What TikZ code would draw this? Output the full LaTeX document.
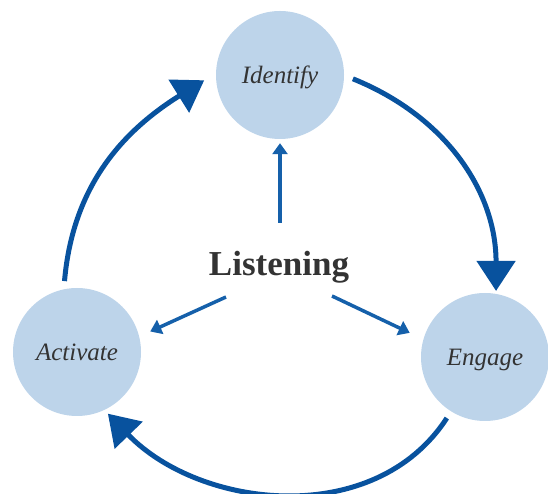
\documentclass[tikz,border=0pt]{standalone}
\usepackage{fontspec}
\setmainfont{Liberation Serif}
\usetikzlibrary{arrows.meta}
\definecolor{stage}{RGB}{189,212,234}
\definecolor{cycleblue}{RGB}{8,82,158}
\definecolor{spokeblue}{RGB}{21,96,170}
\definecolor{ink}{RGB}{51,51,51}
\begin{document}
\begin{tikzpicture}[x=1pt,y=1pt,
  stagenode/.style={circle,fill=stage,minimum size=128pt,inner sep=0pt,
    text=ink,text height=17pt,text depth=0pt,
    font=\fontsize{25}{30}\selectfont\itshape},
  cyclearrow/.style={draw=cycleblue,line width=5pt,
    -{Triangle[length=30pt,width=38pt]}},
  spokearrow/.style={draw=spokeblue,line width=3.5pt,
    -{Triangle[length=11pt,width=15pt]}}]
\useasboundingbox (0,0) rectangle (548,494);

% the three stages of the cycle
\node[stagenode] (ident)  at (280,419) {Identify};
\node[stagenode] (activ)  at (77,142)  {Activate};
\node[stagenode] (engage) at (485,137) {Engage};

% centre label
\node[anchor=base,text=ink,inner sep=0pt,
  font=\fontsize{35}{40}\selectfont\bfseries] (listen) at (279,218) {Listening};

% cycle arrows
\draw[cyclearrow] ([shift={(-3:73)}]ident.center)
  to[out=-22,in=90] ([shift={(80.5:67)}]engage.center);
\draw[cyclearrow] ([shift={(238:72)}]engage.center)
  to[out=237,in=-46] ([shift={(-63.4:69)}]activ.center);
\draw[cyclearrow] ([shift={(100:72)}]activ.center)
  to[out=85,in=212] ([shift={(184:76)}]ident.center);

% spokes from the centre label
\coordinate (sUp)    at (280,271);
\coordinate (sLeft)  at (226,197);
\coordinate (sRight) at (332,198);
\draw[spokearrow,shorten >=4pt]  (sUp)    -- (ident.south);
\draw[spokearrow,shorten >=12pt] (sLeft)  -- (activ.14);
\draw[spokearrow,shorten >=15pt] (sRight) -- (engage.164);
\end{tikzpicture}
\end{document}
